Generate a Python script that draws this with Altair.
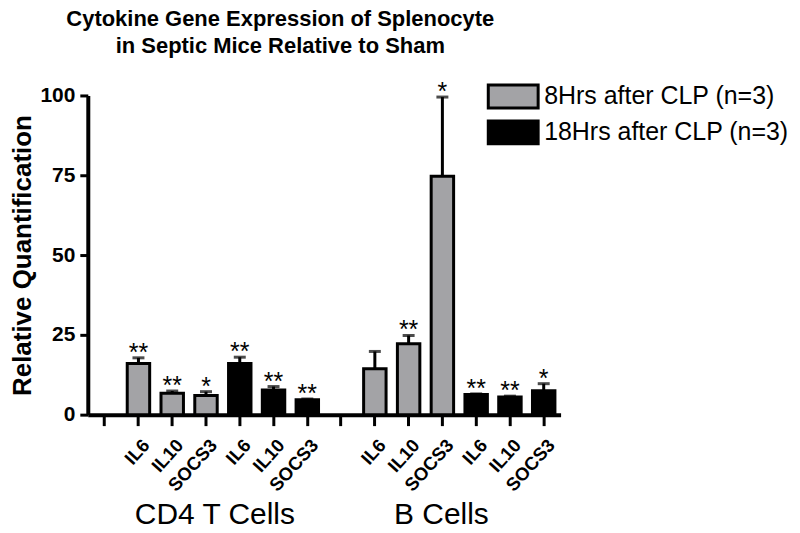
import altair as alt
import pandas as pd

# ---- data ----
genes = ["IL6", "IL10", "SOCS3"]
cells = ["CD4 T Cells", "B Cells"]
times = ["8Hrs after CLP (n=3)", "18Hrs after CLP (n=3)"]

cd4_8h_mean = [16.0, 6.7, 6.0]
cd4_8h_err = [1.8, 0.7, 1.2]
cd4_18h_mean = [16.0, 7.7, 4.7]
cd4_18h_err = [2.0, 1.1, 0.2]
b_8h_mean = [14.4, 22.2, 74.7]
b_8h_err = [5.4, 2.6, 24.8]
b_18h_mean = [6.3, 5.5, 7.5]
b_18h_err = [0.2, 0.3, 2.2]

cd4_8h_star = ["**", "**", "*"]
cd4_18h_star = ["**", "**", "**"]
b_8h_star = ["", "**", "*"]
b_18h_star = ["**", "**", "*"]

title_lines = ["Cytokine Gene Expression of Splenocyte", "in Septic Mice Relative to Sham"]
y_title = "Relative Quantification"
y_ticks = [0, 25, 50, 75, 100]
colors = ["#a3a3a6", "#000000"]

# ---- build table ----
groups = [
    ("CD4", cells[0], times[0], cd4_8h_mean, cd4_8h_err, cd4_8h_star),
    ("CD4", cells[0], times[1], cd4_18h_mean, cd4_18h_err, cd4_18h_star),
    ("B", cells[1], times[0], b_8h_mean, b_8h_err, b_8h_star),
    ("B", cells[1], times[1], b_18h_mean, b_18h_err, b_18h_star),
]
rows = []
slots = ["gap-1"]
for i, (ck, cell, t, means, errs, stars) in enumerate(groups):
    if i == 2:
        slots.append("gap-2")
    for g, m, e, s in zip(genes, means, errs, stars):
        key = f"{ck}-{'8' if t == times[0] else '18'}-{g}"
        slots.append(key)
        rows.append(dict(slot=key, cell=cell, time=t, gene=g, mean=m, hi=m + e, star=s))
df = pd.DataFrame(rows)

FONT = "Liberation Sans"

x_enc = alt.X(
    "slot:N",
    sort=slots,
    scale=alt.Scale(domain=slots, paddingInner=0, paddingOuter=0),
    axis=alt.Axis(
        title=None,
        labelExpr="indexof(datum.value,'gap')==0 ? '' : split(datum.value,'-')[2]",
        labelAngle=-48,
        labelAlign="right",
        labelBaseline="top",
        labelFont=FONT,
        labelFontWeight="bold",
        labelFontSize=18.5,
        labelColor="black",
        labelOffset=1,
        labelPadding=10,
        domainColor="black",
        domainWidth=4,
        tickColor="black",
        tickWidth=3,
        tickSize=11,
        grid=False,
    ),
)

y_scale = alt.Scale(domain=[0, 100], nice=False)

base = alt.Chart(df)

bars = base.mark_bar(stroke="black", strokeWidth=3, size=22.5).encode(
    x=x_enc,
    y=alt.Y(
        "mean:Q",
        scale=y_scale,
        axis=alt.Axis(
            title=y_title,
            values=y_ticks,
            titleFont=FONT,
            titleFontSize=26,
            titleFontWeight="bold",
            titleColor="black",
            titlePadding=4,
            labelFont=FONT,
            labelFontSize=21,
            labelFontWeight="bold",
            labelColor="black",
            labelPadding=5,
            domainColor="black",
            domainWidth=4,
            tickColor="black",
            tickWidth=3,
            tickSize=8,
            grid=False,
        ),
    ),
    color=alt.Color(
        "time:N",
        scale=alt.Scale(domain=times, range=colors),
        legend=alt.Legend(
            title=None,
            orient="none",
            legendX=412.5,
            legendY=-13,
            padding=0,
            symbolType="M-2,-0.92L2,-0.92L2,0.92L-2,0.92Z",
            symbolSize=625,
            symbolStrokeColor="black",
            symbolStrokeWidth=3,
            symbolOpacity=1,
            labelFont=FONT,
            labelFontSize=25,
            labelColor="black",
            labelOffset=17,
            labelLimit=400,
            rowPadding=0,
        ),
    ),
)

err = base.mark_rule(color="black", strokeWidth=3).encode(
    x=alt.X("slot:N", sort=slots), y=alt.Y("mean:Q", scale=y_scale), y2="hi:Q"
)
caps = base.mark_tick(color="black", thickness=3, size=12).encode(
    x=alt.X("slot:N", sort=slots), y=alt.Y("hi:Q", scale=y_scale)
)
stars = base.mark_text(font=FONT, fontSize=25, baseline="alphabetic", dy=3, color="black").encode(
    x=alt.X("slot:N", sort=slots), y=alt.Y("hi:Q", scale=y_scale), text="star:N"
)

cd4_lab = alt.Chart(pd.DataFrame({"slot": ["CD4-18-IL6"], "t": [cells[0]]})).mark_text(
    font=FONT, fontSize=30, baseline="alphabetic", dx=-25, color="black"
).encode(x=alt.X("slot:N", sort=slots), y=alt.value(430), text="t:N")
b_lab = alt.Chart(pd.DataFrame({"slot": ["B-8-SOCS3"], "t": [cells[1]]})).mark_text(
    font=FONT, fontSize=30, baseline="alphabetic", dx=-1, color="black"
).encode(x=alt.X("slot:N", sort=slots), y=alt.value(430), text="t:N")

chart = (
    alt.layer(bars, err, caps, stars, cd4_lab, b_lab)
    .properties(
        width=474,
        height=320,
        autosize=alt.AutoSizeParams(type="none"),
        padding={"left": 80, "top": 87, "right": 232, "bottom": 125},
        title=alt.TitleParams(
            text=title_lines,
            font=FONT,
            fontSize=22,
            fontWeight="bold",
            color="black",
            anchor="middle",
            dx=-44,
            dy=-18,
            lineHeight=27,
        ),
        background="white",
    )
    .configure_view(stroke=None)
)

chart.save("out.html", embed_options={"renderer": "svg", "actions": False})
